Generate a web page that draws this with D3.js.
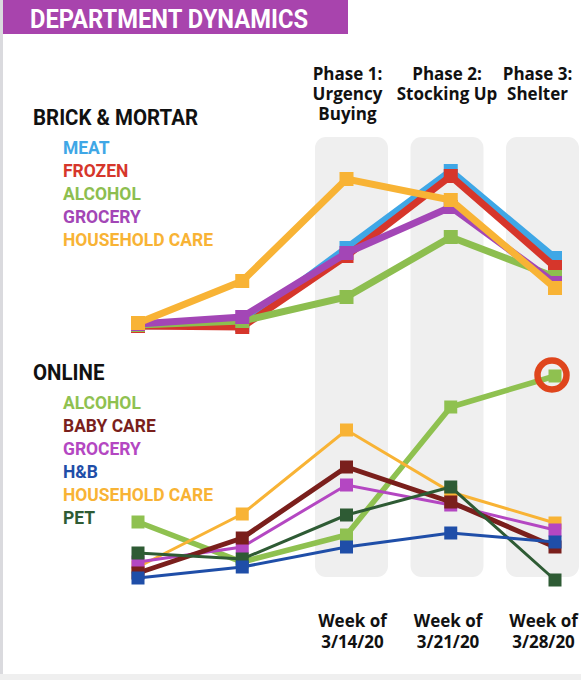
<!DOCTYPE html>
<html><head><meta charset="utf-8">
<script src="https://cdn.jsdelivr.net/npm/d3@7"></script>
<style>
html,body{margin:0;padding:0;background:#fff;}
svg{display:block;}
</style></head>
<body>
<script>
// ---- data ----
const weeks = ["2/29/20","3/7/20","3/14/20","3/21/20","3/28/20"];
const weekLabels = ["3/14/20","3/21/20","3/28/20"];
const phases = [["Phase 1:","Urgency","Buying"],["Phase 2:","Stocking Up"],["Phase 3:","Shelter"]];

const brickNames  = ["MEAT","FROZEN","ALCOHOL","GROCERY","HOUSEHOLD CARE"];
const brickMeat      = [97, 98, 175, 252, 165];
const brickFrozen    = [97, 96, 167, 247, 156];
const brickAlcohol   = [98, 102, 126, 186, 146];
const brickGrocery   = [99, 106, 170, 216, 140];
const brickHousehold = [100, 142, 244, 223, 135];

const onlineNames = ["ALCOHOL","BABY CARE","GROCERY","H&B","HOUSEHOLD CARE","PET"];
const onlineAlcohol   = [78, 38, 65, 193, 224];
const onlineBaby      = [27, 62, 133, 98, 53];
const onlineGrocery   = [38, 53, 115, 95, 70];
const onlineHB        = [22, 33, 53, 67, 58];
const onlineHousehold = [33, 86, 170, 108, 77];
const onlinePet       = [47, 41, 85, 113, 20];

const W = 581, H = 680;
const svg = d3.select("body").append("svg").attr("width", W).attr("height", H);

const cond = "Roboto,sans-serif";
const open = "'Open Sans',sans-serif";

// emulate a condensed face: scale each text horizontally by a common factor k
function condText(sel, k) {
  sel.each(function() {
    const n = this.getComputedTextLength();
    d3.select(this).attr("textLength", n * k).attr("lengthAdjust", "spacingAndGlyphs");
  });
}
function measure(str, size) {
  const t = svg.append("text").attr("font-family",cond).attr("font-weight","bold").attr("font-size",size).text(str);
  const w = t.node().getComputedTextLength(); t.remove(); return w;
}

// frame
svg.append("rect").attr("x",0).attr("y",0).attr("width",3).attr("height",H).attr("fill","#dadade");
svg.append("rect").attr("x",0).attr("y",674).attr("width",W).attr("height",6).attr("fill","#efefef");

// title bar
svg.append("rect").attr("x",3).attr("y",0).attr("width",345).attr("height",34).attr("fill","#a844ad");
const titleSize = 25.5;
svg.append("text").attr("x",30).attr("y",27.5).text("DEPARTMENT DYNAMICS")
  .attr("fill","#fff").attr("font-family",cond).attr("font-weight","bold").attr("font-size",titleSize)
  .call(condText, 278 / measure("DEPARTMENT DYNAMICS", titleSize));

// scales
const x = d3.scalePoint().domain(weeks).range([138, 555]);
const band = d3.scaleBand().domain(weekLabels).range([315, 579]).paddingInner(0.236).paddingOuter(0);
const yTop = d3.scaleLinear().domain([100, 250]).range([323, 173]);
const yBot = d3.scaleLinear().domain([0, 200]).range([600, 400]);

// gray bands
svg.append("g").selectAll("rect").data(weekLabels).join("rect")
  .attr("x", d => band(d)).attr("width", band.bandwidth())
  .attr("y", 137).attr("height", 440).attr("rx", 11).attr("fill", "#efefef");

// phase labels
phases.forEach((lines, i) => {
  const cx = band(weekLabels[i]) + band.bandwidth()/2 + [-4,0,-5][i];
  lines.forEach((l, j) => svg.append("text").attr("text-anchor","middle").attr("font-family",open)
    .attr("font-weight","bold").attr("font-size",17).attr("fill","#111")
    .attr("x", cx).attr("y", 80 + j*20).text(l));
});

// week labels
weekLabels.forEach(w => {
  const cx = band(w) + band.bandwidth()/2 + 1;
  ["Week of", w].forEach((l, j) => svg.append("text").attr("text-anchor","middle").attr("font-family",open)
    .attr("font-weight","bold").attr("font-size",17).attr("fill","#111")
    .attr("x", cx).attr("y", 627 + j*21).text(l));
});

function drawSeries(vals, yS, color, lw, ms) {
  const g = svg.append("g");
  const line = d3.line().x((d,i) => x(weeks[i])).y(d => yS(d));
  g.append("path").attr("d", line(vals)).attr("fill","none").attr("stroke",color)
    .attr("stroke-width", lw).attr("stroke-linejoin","miter");
  g.selectAll("rect").data(vals).join("rect")
    .attr("x", (d,i) => x(weeks[i]) - ms/2).attr("y", d => yS(d) - ms/2)
    .attr("width", ms).attr("height", ms).attr("fill", color);
}

// top chart (draw order bottom->top)
const topSeries = [
  {v: brickMeat, c: "#3fa7e6"},
  {v: brickFrozen, c: "#d6362b"},
  {v: brickAlcohol, c: "#8dbe4f"},
  {v: brickGrocery, c: "#a346b6"},
  {v: brickHousehold, c: "#f8b335"}
];
topSeries.forEach(s => drawSeries(s.v, yTop, s.c, 7, 14));

// bottom chart
const botSeries = [
  {v: onlineAlcohol, c: "#8fc150", w: 5.5},
  {v: onlineHousehold, c: "#f8b335", w: 3},
  {v: onlineGrocery, c: "#b447c2", w: 3},
  {v: onlineBaby, c: "#7a1f1c", w: 5},
  {v: onlinePet, c: "#2e5b34", w: 3},
  {v: onlineHB, c: "#1f4ea8", w: 3}
];
botSeries.forEach(s => drawSeries(s.v, yBot, s.c, s.w, 13));

// highlight circle on last online alcohol point
svg.append("circle").attr("cx", x(weeks[4]) - 3).attr("cy", yBot(onlineAlcohol[4]) - 1)
  .attr("r", 14.5).attr("fill","none").attr("stroke","#df451c").attr("stroke-width",6.5);

// legends
const headSize = 22, itemSize = 19;
const headK = 165 / measure("BRICK & MORTAR", headSize);
const itemK = 150 / measure("HOUSEHOLD CARE", itemSize);
function legend(title, y0, names, colors) {
  svg.append("text").attr("x",33).attr("y",y0).text(title).attr("fill","#111")
    .attr("font-family",cond).attr("font-weight","bold").attr("font-size",headSize).call(condText, headK);
  svg.append("g").selectAll("text").data(names).join("text")
    .attr("x",63).attr("y",(d,i) => y0 + 29 + i*23).text(d => d)
    .attr("fill",(d,i) => colors[i]).attr("font-family",cond).attr("font-weight","bold").attr("font-size",itemSize)
    .call(condText, itemK);
}
legend("BRICK & MORTAR", 125, brickNames, ["#3fa7e6","#d6362b","#8dbe4f","#a346b6","#f8b335"]);
legend("ONLINE", 380, onlineNames, ["#8fc150","#7a1f1c","#b447c2","#1f4ea8","#f8b335","#2e5b34"]);
</script>
</body></html>
